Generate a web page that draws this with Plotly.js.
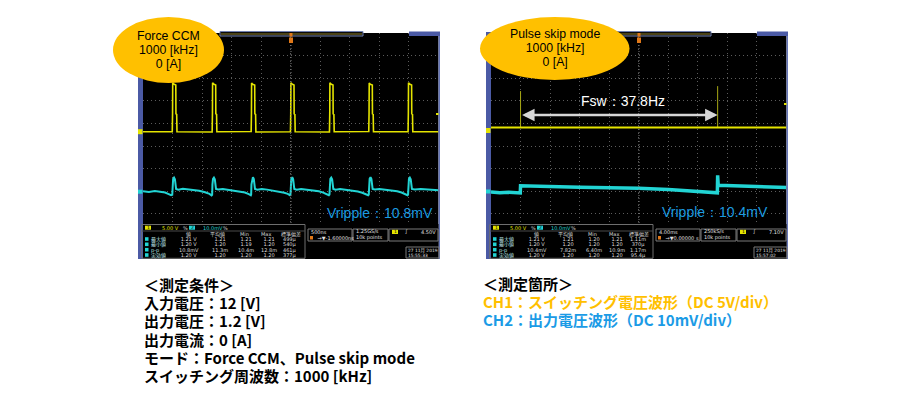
<!DOCTYPE html>
<html><head><meta charset="utf-8">
<script src="https://cdn.plot.ly/plotly-3.0.1.min.js"></script>
<style>html,body{margin:0;padding:0;background:#fff}</style>
</head><body><div id="chart" style="width:900px;height:400px"></div>
<script>
// ---------- DATA (scope divisions: x -5..5, y -5..5) ----------
// Force CCM, CH1 (switching node), pulse rise times at -4.00,-2.65,-1.33,0.00,1.32,2.65,3.98 div
const ch1ForceX = [-5.00,
 -4.01,-4.00,-3.995,-3.96,-3.89,-3.885,-3.86,-3.85,
 -2.66,-2.65,-2.645,-2.61,-2.54,-2.535,-2.51,-2.50,
 -1.34,-1.33,-1.325,-1.29,-1.22,-1.215,-1.19,-1.18,
 -0.01,0.00,0.005,0.04,0.11,0.115,0.14,0.15,
 1.31,1.32,1.325,1.36,1.43,1.435,1.46,1.47,
 2.64,2.65,2.655,2.69,2.76,2.765,2.79,2.80,
 3.97,3.98,3.985,4.02,4.09,4.095,4.12,4.13,
 5.00];
const ch1ForceY = [0.63,
 0.63,1.45,2.80,2.74,2.70,1.42,1.40,0.63,
 0.62,1.45,2.80,2.74,2.70,1.42,1.40,0.63,
 0.64,1.45,2.79,2.73,2.70,1.42,1.40,0.62,
 0.63,1.45,2.80,2.74,2.70,1.42,1.40,0.63,
 0.62,1.45,2.80,2.74,2.70,1.42,1.40,0.63,
 0.64,1.45,2.79,2.73,2.70,1.42,1.40,0.63,
 0.63,1.45,2.80,2.74,2.70,1.42,1.40,0.63,
 0.63];
// Force CCM, CH2 (output ripple)
const ch2ForceX = [-5.00,-4.80,-4.60,-4.40,-4.25,-4.15,-4.05,-4.01,
 -4.00,-3.98,-3.95,-3.92,-3.88,-3.80,-3.65,-3.50,-3.30,-3.10,-2.90,-2.75,-2.68,-2.66,
 -2.65,-2.63,-2.60,-2.57,-2.53,-2.45,-2.30,-2.15,-1.95,-1.75,-1.55,-1.42,-1.35,-1.34,
 -1.33,-1.31,-1.28,-1.25,-1.21,-1.13,-0.98,-0.80,-0.60,-0.40,-0.22,-0.10,-0.03,-0.01,
 0.00,0.02,0.05,0.08,0.12,0.20,0.35,0.55,0.75,0.95,1.10,1.22,1.29,1.31,
 1.32,1.34,1.37,1.40,1.44,1.52,1.67,1.87,2.07,2.27,2.42,2.54,2.62,2.64,
 2.65,2.67,2.70,2.73,2.77,2.85,3.00,3.20,3.40,3.60,3.75,3.87,3.95,3.97,
 3.98,4.00,4.03,4.06,4.10,4.20,4.40,4.60,4.80,5.00];
const ch2ForceY = [-2.00,-2.03,-1.99,-2.04,-2.06,-2.12,-2.18,-2.16,
 -1.70,-1.45,-1.40,-1.47,-1.90,-1.93,-1.89,-1.91,-1.94,-1.98,-2.05,-2.12,-2.19,-2.16,
 -1.70,-1.45,-1.40,-1.47,-1.90,-1.92,-1.90,-1.93,-1.96,-2.00,-2.06,-2.13,-2.18,-2.15,
 -1.70,-1.45,-1.38,-1.46,-1.90,-1.93,-1.90,-1.93,-1.97,-2.01,-2.07,-2.12,-2.18,-2.15,
 -1.70,-1.45,-1.38,-1.46,-1.90,-1.93,-1.90,-1.93,-1.96,-2.00,-2.06,-2.12,-2.18,-2.15,
 -1.70,-1.45,-1.40,-1.47,-1.90,-1.93,-1.90,-1.93,-1.97,-2.01,-2.07,-2.12,-2.18,-2.15,
 -1.70,-1.45,-1.38,-1.46,-1.90,-1.92,-1.90,-1.93,-1.96,-2.00,-2.06,-2.12,-2.18,-2.15,
 -1.70,-1.45,-1.40,-1.47,-1.90,-1.92,-1.90,-1.93,-1.95,-1.96];
// Pulse skip mode, CH1: baseline and two switching bursts at -4.00 and 2.67 div
const fswMarks = [-4.00, 2.67];
const ch1SkipX = [-5.00, 5.00];
const ch1SkipY = [0.82, 0.82];
const ch1BurstX = [-4.00,-4.00,null,2.67,2.67];
const ch1BurstY = [0.82,2.43,null,0.82,2.65];
// Pulse skip mode, CH2
const ch2SkipX = [-5.00,-4.70,-4.40,-4.10,-4.01,-4.00,-3.60,-3.00,-2.00,-1.00,0.00,1.00,2.00,2.60,2.66,2.67,2.69,3.20,4.00,4.60,5.00];
const ch2SkipY = [-2.04,-2.07,-2.05,-2.09,-2.08,-1.76,-1.78,-1.80,-1.83,-1.85,-1.87,-1.93,-2.01,-2.06,-2.07,-1.30,-1.74,-1.76,-1.79,-1.82,-1.84];

// Labels
const bubbleForce = ["Force CCM","1000 [kHz]","0 [A]"];
const bubbleSkip = ["Pulse skip mode","1000 [kHz]","0 [A]"];
const rippleForce = "Vripple：10.8mV";
const rippleSkip = "Vripple：10.4mV";
const fswLabel = "Fsw：37.8Hz";
const condLines = ["＜測定条件＞","入力電圧：12 [V]","出力電圧：1.2 [V]","出力電流：0 [A]","モード：Force CCM、Pulse skip mode","スイッチング周波数：1000 [kHz]"];
const pointTitle = "＜測定箇所＞";
const ch1Desc = "CH1：スイッチング電圧波形（DC 5V/div）";
const ch2Desc = "CH2：出力電圧波形（DC 10mV/div）";
// Scope measurement tables
const chScales = ["5.00 V","10.0mV"];
const tableCols = ["値","平均値","Min","Max","標準偏差"];
const rowLabels = ["最大値","最小値","p-p","実効値"];
const forceRows = [["1.21 V","1.21","1.21","1.21","499μ"],["1.20 V","1.20","1.19","1.20","540μ"],["10.8mV","11.3m","10.4m","12.8m","461μ"],["1.20 V","1.20","1.20","1.20","377μ"]];
const skipRows = [["1.21 V","1.21","1.20","1.21","1.11m"],["1.20 V","1.20","1.20","1.20","370μ"],["10.4mV","7.82m","6.40m","10.9m","1.17m"],["1.20 V","1.20","1.20","1.20","95.4μ"]];
const forceInfo = ["500ns","→▼-1.60000ns","1.25GS/s","10k points","4.50V","27 11月 2019","15:55:33"];
const skipInfo = ["4.00ms","→▼0.00000 s","250kS/s","10k points","7.10V","27 11月 2019","15:57:02"];

// ---------- LAYOUT HELPERS ----------
const W=900,H=400;
const px=x=>x/W, py=y=>1-y/H;
const shapes=[], annotations=[];
const FONT='Liberation Sans, Arial, sans-serif';
const CJK='Noto Sans CJK JP, sans-serif';
const TINY='DejaVu Sans, Noto Sans CJK JP, sans-serif';
const YEL='#e4e400', CYN='#22d4d4', BLUE='#4b5aa5';
function rect(x0,y0,x1,y1,fill,line,lw){
  shapes.push({type:'rect',xref:'paper',yref:'paper',x0:px(x0),x1:px(x1),y0:py(y1),y1:py(y0),
    fillcolor:fill||'rgba(0,0,0,0)',line:{color:line||'rgba(0,0,0,0)',width:line?(lw||1):0},layer:'above'});
}
function hline(x0,x1,y,color,w,dash){
  shapes.push({type:'line',xref:'paper',yref:'paper',x0:px(x0),x1:px(x1),y0:py(y),y1:py(y),line:{color:color,width:w||1,dash:dash||'solid'},layer:'above'});
}
function vline(x,y0,y1,color,w,dash){
  shapes.push({type:'line',xref:'paper',yref:'paper',x0:px(x),x1:px(x),y0:py(y0),y1:py(y1),line:{color:color,width:w||1,dash:dash||'solid'},layer:'above'});
}
function txt(x,y,t,color,size,anchor,family,bold){
  annotations.push({xref:'paper',yref:'paper',x:px(x),y:py(y),text:bold?'<b>'+t+'</b>':t,showarrow:false,
    xanchor:anchor||'left',yanchor:'middle',borderpad:0,font:{color:color,size:size,family:family||FONT}});
}
// multi-line block: line pitch set by base size (1.3 em), glyphs drawn at glyphSize
function block(x,yc,lines,color,pitch,glyphSize,anchor,family,bold,colors){
  const t=lines.map((l,i)=>'<span style="font-size:'+glyphSize+'px'+(colors?';color:'+colors[i]:'')+'">'+(bold?'<b>'+l+'</b>':l)+'</span>').join('<br>');
  annotations.push({xref:'paper',yref:'paper',x:px(x),y:py(yc),text:t,showarrow:false,align:anchor==='right'?'right':(anchor==='center'?'center':'left'),
    xanchor:anchor||'left',yanchor:'middle',borderpad:0,font:{color:color,size:pitch/1.3,family:family||FONT}});
}

function scopeChrome(dx, rows, info, ym1, ym2, trigY){
  vline(291+dx,36,224,'#7a7a7a',1,'1px,2px');
  rect(138+dx,32,143+dx,259,BLUE);
  rect(438.5+dx,32,440+dx,259,'#6676b8');
  rect(143+dx,224,438.5+dx,259,'#000000');
  rect(220+dx,31.5,363+dx,36,'#0c0c0c','#7080b0',1);
  hline(221+dx,362+dx,34,'#8a7a20',1);
  rect(409+dx,31.5,440+dx,36,BLUE);
  rect(289.5+dx,33,292.5+dx,36.5,'#e07818');
  rect(289+dx,37.5,293+dx,43,'#e07818');
  rect(138+dx,ym1-2.5,142.5+dx,ym1+2.5,YEL);
  rect(138+dx,ym2-2,142.5+dx,ym2+2,CYN);
  rect(436+dx,trigY-1,438.5+dx,trigY+1,YEL);
  // measurement table
  rect(141.7+dx,224.5,305+dx,258.3,null,'#6e6e6e',1);
  hline(142+dx,305+dx,231,'#4a4a4a',1);
  rect(145+dx,225.7,151+dx,229.7,YEL);
  txt(148+dx,227.7,'1','#000',4.5,'center',TINY);
  txt(161+dx,227.9,chScales[0],YEL,5,'left',TINY);
  txt(182+dx,227.9,'%','#cccccc',5,'left',TINY);
  rect(189+dx,225.7,195+dx,229.7,CYN);
  txt(192+dx,227.7,'2','#000',4.5,'center',TINY);
  txt(201.5+dx,227.9,chScales[1],CYN,5,'left',TINY);
  txt(222+dx,227.9,'%','#cccccc',5,'left',TINY);
  const hx=[188.3,217.3,244.7,266,290.7];
  const vx=[189,220,245.5,269,290];
  const ry=[239,244.3,249.7,255];
  tableCols.forEach((c,i)=>txt(hx[i]+dx,234,c,'#d8d8d8',5,'center',TINY));
  rows.forEach((r,j)=>rect(145+dx,ry[j]-1.8,148.5+dx,ry[j]+1.8,CYN));
  block(150+dx,247,rowLabels,'#bfeaea',5.33,5,'left',TINY);
  vx.forEach((x,i)=>block(x+dx,247,rows.map(r=>r[i]),'#dcdcdc',5.33,5,'center',TINY));
  // info boxes
  rect(308+dx,229,352+dx,241,null,'#7a7a7a',1);
  rect(353+dx,229,388+dx,241,null,'#7a7a7a',1);
  rect(389+dx,229,438+dx,241,null,'#7a7a7a',1);
  rect(406+dx,247,439+dx,258,null,'#7a7a7a',1);
  block(310+dx,234.8,[info[0],'\u2003 '+info[1]],'#e0e0e0',6.1,5,'left',TINY);
  rect(310+dx,236,313+dx,239.5,'#e07818');
  block(355+dx,234.8,[info[2],info[3]],'#e0e0e0',6.1,5,'left',TINY);
  rect(392+dx,229.8,398+dx,234,YEL);
  txt(395+dx,232,'1','#000',4.5,'center',TINY);
  txt(404+dx,232,'∫','#e0e0e0',5,'left',TINY);
  txt(437+dx,232,info[4],'#e0e0e0',5,'right',TINY);
  block(407+dx,252.9,[info[5],info[6]],'#e0e0e0',4.8,4.4,'left',TINY);
}
scopeChrome(0, forceRows, forceInfo, 131.7, 191.7, 114);
scopeChrome(348, skipRows, skipInfo, 130.5, 191.5, 104);

// bubbles
shapes.push({type:'circle',xref:'paper',yref:'paper',x0:px(113),x1:px(224),y0:py(83),y1:py(17),fillcolor:'#FFC000',line:{width:0},layer:'above'});
shapes.push({type:'circle',xref:'paper',yref:'paper',x0:px(480),x1:px(629.5),y0:py(80),y1:py(17),fillcolor:'#FFC000',line:{width:0},layer:'above'});
block(168.5,49.5,bubbleForce,'#000',14.2,12.3,'center');
block(554.5,48.3,bubbleSkip,'#000',14.2,12.3,'center');

// ripple & fsw labels
const RIP='#1b9be0';
txt(380,213.3,rippleForce,RIP,14,'center');
txt(715,211.7,rippleSkip,RIP,14,'center');
txt(623,100.7,fswLabel,'#ffffff',14,'center');
annotations.push({xref:'x2',yref:'y2',axref:'x2',ayref:'y2',x:fswMarks[1],y:1.37,ax:fswMarks[0],ay:1.37,text:'',
  showarrow:true,arrowside:'end+start',arrowhead:2,startarrowhead:2,arrowsize:1,startarrowsize:1,arrowwidth:2.5,
  arrowcolor:'#d6d6d6',standoff:0,startstandoff:0});

// bottom texts
block(143,329.5,condLines,'#000',18.2,15,'left',CJK,true);
block(482,301.8,[pointTitle,ch1Desc,ch2Desc],'#000',17.8,15,'left',CJK,true,['#000000','#FFC000','#1b9be6']);

const axBase = {range:[-5,5],dtick:1,tick0:0,showgrid:true,gridcolor:'#5c5c5c',griddash:'1px,3px',gridwidth:1,
  zeroline:false,showticklabels:false,ticks:'',showline:false,fixedrange:true};
const yDom=[py(259),py(33)];
const layout = {
  width:900,height:400,margin:{l:0,r:0,t:0,b:0},paper_bgcolor:'#ffffff',plot_bgcolor:'#000000',
  showlegend:false,hovermode:false,
  xaxis:Object.assign({},axBase,{domain:[px(143),px(438.5)],anchor:'y'}),
  yaxis:Object.assign({},axBase,{domain:yDom,anchor:'x'}),
  xaxis2:Object.assign({},axBase,{domain:[px(491),px(786.5)],anchor:'y2'}),
  yaxis2:Object.assign({},axBase,{domain:yDom,anchor:'x2'}),
  shapes:shapes,annotations:annotations
};
const traces = [
  {x:ch1ForceX,y:ch1ForceY,xaxis:'x',yaxis:'y',mode:'lines',line:{color:YEL,width:1.6},name:'CH1'},
  {x:ch2ForceX,y:ch2ForceY,xaxis:'x',yaxis:'y',mode:'lines',line:{color:CYN,width:2},name:'CH2'},
  {x:ch1BurstX,y:ch1BurstY,xaxis:'x2',yaxis:'y2',mode:'lines',line:{color:'#a8a814',width:1},name:'CH1 burst',connectgaps:false},
  {x:ch1SkipX,y:ch1SkipY,xaxis:'x2',yaxis:'y2',mode:'lines',line:{color:YEL,width:2},name:'CH1'},
  {x:ch2SkipX,y:ch2SkipY,xaxis:'x2',yaxis:'y2',mode:'lines',line:{color:CYN,width:3.5},name:'CH2'}
];
Plotly.newPlot('chart',traces,layout,{displayModeBar:false,staticPlot:true});
</script></body></html>
